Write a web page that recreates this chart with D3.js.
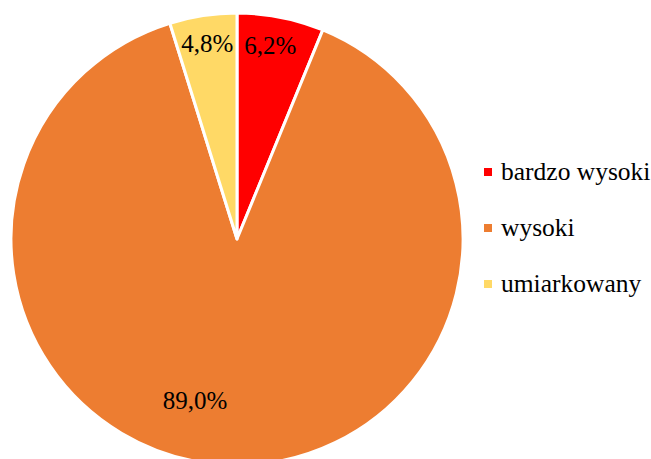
<!DOCTYPE html>
<html><head><meta charset="utf-8">
<script src="https://cdn.jsdelivr.net/npm/d3@7"></script>
<style>body{margin:0;background:#fff}svg{display:block}</style>
</head><body>
<svg id="c" width="651" height="459"></svg>
<script>
const categories = ["bardzo wysoki", "wysoki", "umiarkowany"];
const values = [6.2, 89.0, 4.8];
const labels = ["6,2%", "89,0%", "4,8%"];
const colors = ["#FF0000", "#ED7D31", "#FFD966"];

// label placement (radius fraction, angular offset in degrees)
const labelPlacement = [{r:0.87, off:-1.4}, {r:0.74, off:12}, {r:0.875, off:0}];

const svg = d3.select("#c");
const cx = 237, cy = 239, R = 226;
const g = svg.append("g").attr("transform", `translate(${cx},${cy})`);
const pie = d3.pie().sort(null).value(d => d)(values);
const arc = d3.arc().innerRadius(0).outerRadius(R);
g.selectAll("path").data(pie).join("path")
  .attr("d", arc).attr("fill", (d,i) => colors[i])
  .attr("stroke", "#fff").attr("stroke-width", 3).attr("stroke-linejoin", "round");

g.selectAll("text.lbl").data(pie).join("text").attr("class","lbl")
  .attr("x", (d,i) => { const a = (d.startAngle+d.endAngle)/2 + labelPlacement[i].off*Math.PI/180; return Math.sin(a)*R*labelPlacement[i].r; })
  .attr("y", (d,i) => { const a = (d.startAngle+d.endAngle)/2 + labelPlacement[i].off*Math.PI/180; return -Math.cos(a)*R*labelPlacement[i].r; })
  .attr("text-anchor","middle").attr("dominant-baseline","central")
  .attr("font-family","'Liberation Serif', serif").attr("font-size",25).attr("fill","#000")
  .text((d,i) => labels[i]);

const lg = svg.append("g").attr("transform","translate(484,172)");
const item = lg.selectAll("g").data(categories).join("g")
  .attr("transform",(d,i)=>`translate(0,${i*56})`);
item.append("rect").attr("x",0).attr("y",-4).attr("width",8).attr("height",8).attr("fill",(d,i)=>colors[i]);
item.append("text").attr("x",17).attr("y",8).attr("font-family","'Liberation Serif', serif")
  .attr("font-size",25.5).attr("fill","#000").text(d=>d);
</script>
</body></html>
